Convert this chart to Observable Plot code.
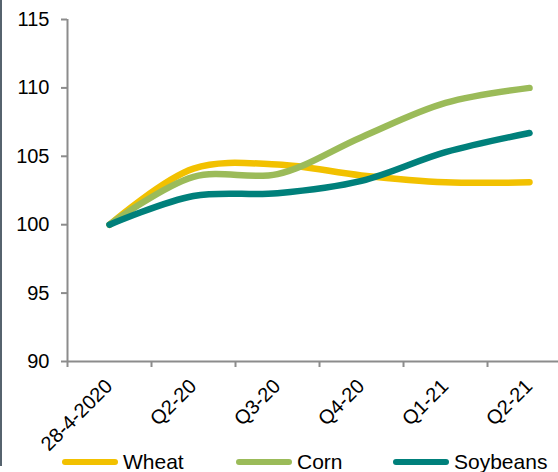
<!DOCTYPE html>
<html><head><meta charset="utf-8">
<script src="https://cdn.jsdelivr.net/npm/d3@7"></script>
<script src="https://cdn.jsdelivr.net/npm/@observablehq/plot@0.6"></script>
<style>
html,body{margin:0;padding:0;background:#fff;overflow:hidden;}
#wrap{position:relative;width:558px;height:472px;overflow:hidden;font-family:"Liberation Sans",Arial,sans-serif;}
#edge{position:absolute;left:0;top:0;width:2px;height:466px;background:#56636e;}
#chart svg{display:block;overflow:visible;}
#legend{position:absolute;left:0;top:449px;width:558px;height:26px;font-size:21px;color:#000;}
.item{position:absolute;top:0;display:flex;align-items:center;white-space:nowrap;height:26px;}
.sw{width:56px;height:6px;border-radius:3px;margin-right:5px;}
</style>
</head><body><div id="wrap"><div id="chart"></div><div id="edge"></div><div id="legend"></div></div>
<script>
const categories = ["28-4-2020", "Q2-20", "Q3-20", "Q4-20", "Q1-21", "Q2-21"];
const wheat    = [100, 104.1, 104.4, 103.6, 103.1, 103.1];
const corn     = [100, 103.5, 103.7, 106.4, 108.9, 110.0];
const soybeans = [100, 102.1, 102.3, 103.2, 105.3, 106.7];
const yTicks = [90, 95, 100, 105, 110, 115];
const seriesNames = ["Wheat", "Corn", "Soybeans"];
const seriesColors = ["#f2c100", "#9bbb59", "#00807b"];

const seriesValues = [wheat, corn, soybeans];
const rows = seriesNames.flatMap((s, k) => seriesValues[k].map((v, i) => ({series: s, i, v})));
const idx = categories.map((c, i) => i);
const bounds = categories.map((c, i) => i - 0.5);

const grey = "#8c8c8c";
const font = "'Liberation Sans', Arial, sans-serif";
const plot = Plot.plot({
  width: 558, height: 452,
  marginLeft: 67, marginRight: 0, marginTop: 19, marginBottom: 91,
  style: {fontFamily: font, fontSize: "20px", color: "#000", background: "#fff", overflow: "visible"},
  x: {type: "linear", domain: [-0.5, 5.345], axis: null},
  y: {domain: [90, 115], axis: null},
  color: {domain: seriesNames, range: seriesColors},
  marks: [
    Plot.axisY({ticks: yTicks, tickSize: 6, stroke: grey, strokeWidth: 2, tickFormat: () => "", label: null}),
    Plot.axisX({ticks: bounds, tickSize: 6, stroke: grey, strokeWidth: 2, tickFormat: () => "", label: null}),
    Plot.text(yTicks, {y: d => d, text: d => String(d), frameAnchor: "left", dx: -18, textAnchor: "end", fontSize: 20, fill: "#000"}),
    Plot.text(idx, {x: d => d, text: d => categories[d], frameAnchor: "bottom", dx: 4, dy: 26, rotate: -45, textAnchor: "end", lineAnchor: "bottom", fontSize: 20, fill: "#000"}),
    Plot.ruleX([-0.5], {stroke: grey, strokeWidth: 2}),
    Plot.ruleY([90], {stroke: grey, strokeWidth: 2}),
    Plot.line(rows, {x: "i", y: "v", z: "series", stroke: "series", strokeWidth: 6.5, curve: "catmull-rom", strokeLinecap: "round", strokeLinejoin: "round"})
  ]
});
document.getElementById("chart").appendChild(plot);

const legendX = [62, 236, 393];
const legend = document.getElementById("legend");
seriesNames.forEach((s, k) => {
  const it = document.createElement("div");
  it.className = "item";
  it.style.left = legendX[k] + "px";
  const sw = document.createElement("div");
  sw.className = "sw";
  sw.style.background = seriesColors[k];
  const t = document.createElement("span");
  t.textContent = s;
  it.appendChild(sw); it.appendChild(t);
  legend.appendChild(it);
});
</script>
</body></html>
